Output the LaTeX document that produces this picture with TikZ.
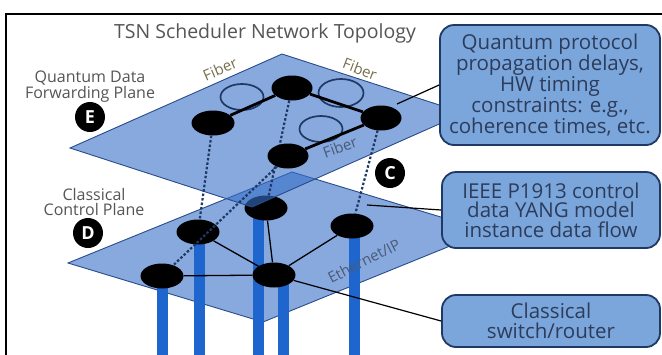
\documentclass[tikz,border=0pt]{standalone}
\usepackage{fontspec}
\setmainfont{Open Sans}
\usetikzlibrary{shapes.geometric}
\pgfdeclarelayer{L0}\pgfdeclarelayer{L1}\pgfdeclarelayer{L2}
\pgfdeclarelayer{L3}\pgfdeclarelayer{L4}\pgfdeclarelayer{L5}
\pgfsetlayers{L0,L1,main,L2,L3,L4,L5}
\definecolor{planefill}{RGB}{55,112,200}
\definecolor{planeedge}{RGB}{40,75,140}
\definecolor{pillarblue}{RGB}{30,102,205}
\definecolor{navy}{RGB}{31,56,100}
\definecolor{boxblue}{RGB}{122,166,220}
\definecolor{boxtext}{RGB}{45,60,90}
\definecolor{labelgray}{RGB}{85,85,85}
\definecolor{fibertan}{RGB}{120,112,80}
\definecolor{slate}{RGB}{75,90,120}
\begin{document}
\begin{tikzpicture}[x=1pt,y=-1pt,
  plane/.style={fill=planefill, fill opacity=0.6, draw=planeedge, line width=0.9pt},
  pillar/.style={draw=pillarblue, line width=11pt},
  qnode/.style={ellipse, fill=black, minimum width=43pt, minimum height=25pt, inner sep=0pt},
  loopnode/.style={ellipse, draw=navy, line width=1.7pt, minimum width=44pt, minimum height=27pt, inner sep=0pt},
  qlink/.style={line width=2.8pt, black},
  clink/.style={line width=1.3pt, black},
  vdots/.style={draw=navy, line width=2.2pt, dash pattern=on 2.5pt off 2pt},
  badge/.style={circle, fill=black, text=white, minimum size=30pt, inner sep=0pt, font=\bfseries\fontsize{18}{18}\selectfont},
  callout/.style={rectangle, rounded corners=14pt, fill=boxblue, draw=navy, line width=1.8pt, text=boxtext, align=center, font=\fontsize{20.5}{19.5}\selectfont, inner sep=0pt},
  conn/.style={line width=1.2pt, black},
  sidelabel/.style={text=labelgray, align=center, font=\fontsize{16}{14.5}\selectfont},
  fiberlabel/.style={font=\fontsize{15}{15}\selectfont},
]
\useasboundingbox (0,0) rectangle (662,354);

% background, frame and lower plane
\begin{pgfonlayer}{L0}
\fill[white] (0,0) rectangle (662,354);
\draw[line width=2.5pt, black] (6,358) -- (6,14) -- (666,14);
\draw[plane] (68,263) -- (292,172) -- (487,231) -- (263,322) -- cycle;
\end{pgfonlayer}

% lower nodes
\node[qnode] (D1) at (162,276) {};
\node[qnode] (D2) at (198,232) {};
\node[qnode] (D3) at (266,208) {};
\node[qnode] (D4) at (352,226) {};
\node[qnode] (D5) at (274,275) {};

\coordinate (p1t) at (162,276); \coordinate (p1b) at (162,360);
\coordinate (p2t) at (199,232); \coordinate (p2b) at (199,360);
\coordinate (p3t) at (258,210); \coordinate (p3b) at (258,360);
\coordinate (p5t) at (283,277); \coordinate (p5b) at (283,360);
\coordinate (p4t) at (354,226); \coordinate (p4b) at (354,360);

\begin{pgfonlayer}{L1}
\draw[pillar] (p1t) -- (p1b);
\draw[pillar] (p2t) -- (p2b);
\draw[pillar] (p3t) -- (p3b);
\draw[pillar] (p5t) -- (p5b);
\draw[pillar] (p4t) -- (p4b);
\draw[clink] (D1) -- (D5);
\draw[clink] (D2) -- (D5);
\draw[clink] (D3) -- (D5);
\draw[clink] (D4) -- (D5);
\end{pgfonlayer}

% upper plane
\begin{pgfonlayer}{L2}
\draw[plane] (70,148) -- (282,54) -- (464,113) -- (252,207) -- cycle;
\end{pgfonlayer}

% upper nodes
\begin{pgfonlayer}{L4}
\node[qnode, minimum width=43pt] (E1) at (213,123) {};
\node[qnode, minimum width=41pt] (E2) at (292,88) {};
\node[qnode, minimum width=41pt] (E3) at (381,118) {};
\node[qnode, minimum width=41pt] (E4) at (288,156) {};
\end{pgfonlayer}

\begin{pgfonlayer}{L3}
\node[loopnode, minimum width=43pt, minimum height=26pt] (O1) at (242,97) {};
\node[loopnode, minimum width=45pt, minimum height=28pt] (O2) at (341,93) {};
\node[loopnode, minimum width=43pt, minimum height=26pt] (O3) at (321,129) {};
\draw[qlink] (E1) -- (E2);
\draw[qlink] (E2) -- (E3);
\draw[qlink] (E3) -- (E4);
\draw[vdots] (E1) -- (D2);
\draw[vdots] (E2) -- (D3);
\draw[vdots] (E4) -- (D1);
\draw[vdots] (E3) -- (D4);
\end{pgfonlayer}

\begin{pgfonlayer}{L5}
% labels
\node[text={rgb,255:red,85;green,85;blue,85}, font=\fontsize{19.5}{19.5}\selectfont] (title) at (265,33) {TSN Scheduler Network Topology};
\node[sidelabel] (qlabel) at (90,87) {Quantum Data\\Forwarding Plane};
\node[sidelabel] (clabel) at (94,202) {Classical\\Control Plane};
\node[badge] (bE) at (90,117) {E};
\node[badge] (bD) at (88,233) {D};
\node[badge] (bC) at (390,173) {C};
\node[fiberlabel, text=fibertan, rotate=23] (f1) at (220,69) {Fiber};
\node[fiberlabel, text=fibertan, rotate=-21] (f2) at (360,69) {Fiber};
\node[fiberlabel, text=slate, rotate=20] (f3) at (340,147) {Fiber};
\node[fiberlabel, text=slate, rotate=27] (eth) at (364,261) {Ethernet/IP};

% callouts
\node[callout, minimum width=220pt, minimum height=120pt] (box1) at (550,85)
  {Quantum protocol\\propagation delays,\\HW timing\\constraints: e.g.,\\coherence times, etc.};
\node[callout, minimum width=218pt, minimum height=76pt] (box2) at (551,210)
  {IEEE P1913 control\\data YANG model\\instance data flow};
\node[callout, minimum width=218pt, minimum height=52pt] (box3) at (551,321)
  {Classical\\switch/router};

\coordinate (cu) at (397,104);
\coordinate (cl) at (367,205);
\draw[conn] (cu) -- (box1.west);
\draw[conn] (cl) -- (box2.west);
\draw[conn] (D5) -- (box3.west);
\end{pgfonlayer}
\end{tikzpicture}
\end{document}
